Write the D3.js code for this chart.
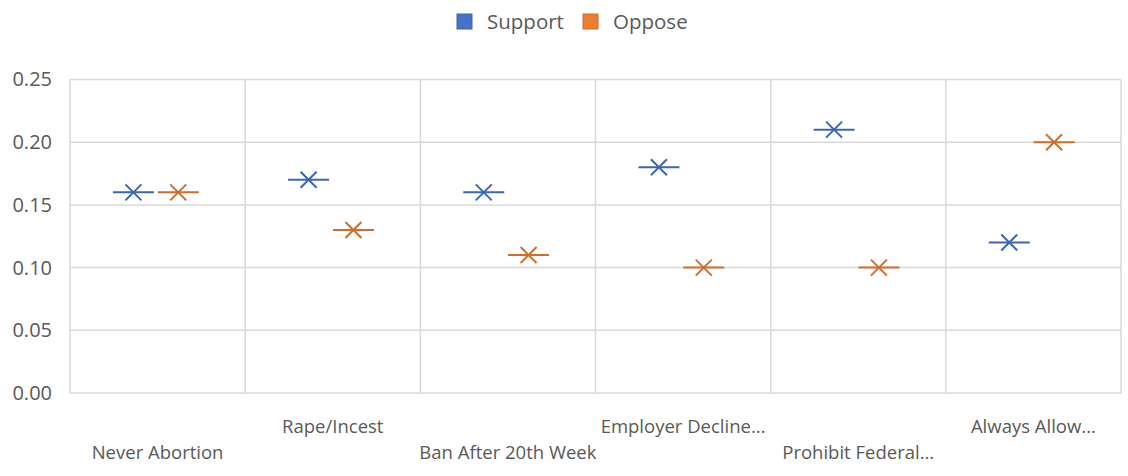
<!DOCTYPE html>
<html>
<head>
<meta charset="utf-8">
<script src="https://cdn.jsdelivr.net/npm/d3@7"></script>
<style>
  html, body { margin: 0; padding: 0; background: #fff; }
  svg { display: block; font-family: "Open Sans", "Noto Sans", sans-serif; }
</style>
</head>
<body>
<svg id="chart" width="1128" height="476"></svg>
<script>
// Categories and series values
const categories = ["Never Abortion", "Rape/Incest", "Ban After 20th Week", "Employer Decline...", "Prohibit Federal...", "Always Allow..."];
const seriesNames = ["Support", "Oppose"];
const support = [0.16, 0.17, 0.16, 0.18, 0.21, 0.12];
const oppose = [0.16, 0.13, 0.11, 0.10, 0.10, 0.20];
const yTicks = [0, 0.05, 0.10, 0.15, 0.20, 0.25];

const colors = { Support: "#4472C4", Oppose: "#ED7D31" };
const markColors = { Support: "#3d66b0", Oppose: "#d16d2b" };

const svg = d3.select("#chart");
const margin = { left: 70, right: 7, top: 79.5, bottom: 83 };
const W = 1128, H = 476;

const x = d3.scaleBand().domain(categories).range([margin.left, W - margin.right]).padding(0);
const y = d3.scaleLinear().domain([0, 0.25]).range([H - margin.bottom, margin.top]);
const bw = x.bandwidth();
const xs = d3.scaleBand().domain(seriesNames).range([bw * 0.234, bw * 0.746]);

// Horizontal gridlines
svg.append("g")
  .selectAll("line")
  .data(yTicks)
  .join("line")
  .attr("x1", margin.left).attr("x2", W - margin.right)
  .attr("y1", d => y(d)).attr("y2", d => y(d))
  .attr("stroke", "#d9d9d9").attr("stroke-width", 1.5);

// Vertical category separators
const bounds = categories.map(c => x(c)).concat([x(categories[categories.length - 1]) + bw]);
svg.append("g")
  .selectAll("line")
  .data(bounds)
  .join("line")
  .attr("x1", d => d).attr("x2", d => d)
  .attr("y1", y(0.25)).attr("y2", y(0))
  .attr("stroke", "#d9d9d9").attr("stroke-width", 1.5);

// Y axis labels
const yAxis = d3.axisLeft(y).tickValues(yTicks).tickFormat(d3.format(".2f")).tickSize(0).tickPadding(18);
const yg = svg.append("g").attr("transform", `translate(${margin.left},0)`).call(yAxis);
yg.attr("font-family", null).attr("font-size", null);
yg.select(".domain").remove();
yg.selectAll("text").attr("fill", "#595959").style("font-size", "20px");

// Category labels, staggered on two rows
svg.append("g")
  .selectAll("text")
  .data(categories)
  .join("text")
  .attr("x", d => x(d) + bw / 2)
  .attr("y", (d, i) => i % 2 === 0 ? 459 : 433)
  .attr("text-anchor", "middle")
  .attr("fill", "#595959")
  .style("font-size", "18.5px")
  .text(d => d);

// Markers: horizontal dash with an x cross
const series = [
  { name: "Support", values: support },
  { name: "Oppose", values: oppose }
];
series.forEach(s => {
  const g = svg.append("g");
  const pts = categories.map((c, i) => ({ cx: x(c) + xs(s.name) + xs.bandwidth() / 2, cy: y(s.values[i]) }));
  const mk = g.selectAll("g").data(pts).join("g")
    .attr("transform", d => `translate(${d.cx},${d.cy})`)
    .attr("stroke", markColors[s.name]).attr("stroke-width", 2).attr("fill", "none");
  mk.append("line").attr("x1", -20.5).attr("x2", 20.5).attr("y1", 0).attr("y2", 0);
  mk.append("path").attr("d", "M-8,-8L8,8M-8,8L8,-8");
});

// Legend
const legend = svg.append("g");
const legendItems = [
  { name: "Support", x: 457 },
  { name: "Oppose", x: 583 }
];
legendItems.forEach(it => {
  legend.append("rect")
    .attr("x", it.x).attr("y", 14).attr("width", 15).attr("height", 15)
    .attr("fill", colors[it.name]).attr("stroke", markColors[it.name]).attr("stroke-width", 1);
  legend.append("text")
    .attr("x", it.x + 30).attr("y", 29)
    .attr("fill", "#595959").style("font-size", "20.5px")
    .text(it.name);
});
</script>
</body>
</html>
